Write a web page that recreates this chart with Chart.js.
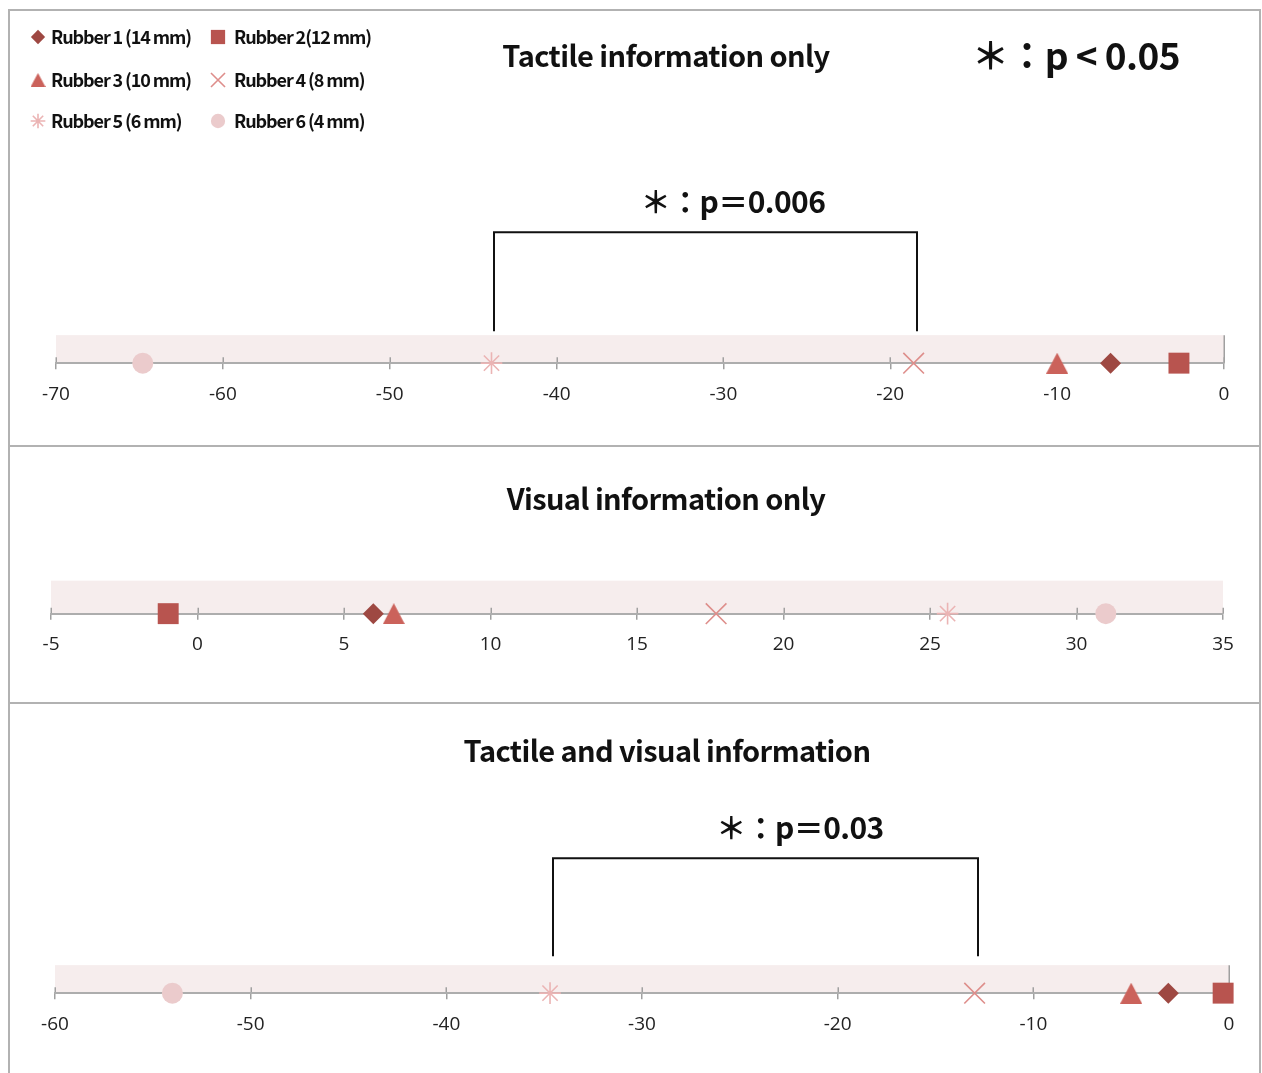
<!DOCTYPE html>
<html>
<head>
<meta charset="utf-8">
<script src="https://cdn.jsdelivr.net/npm/chart.js@4.4.1/dist/chart.umd.min.js"></script>
<style>
  body { margin: 0; background: #fff; width: 1262px; height: 1073px; overflow: hidden; position: relative; font-family: "Noto Sans CJK KR", sans-serif; }
  .frame { position: absolute; left: 8px; top: 9px; width: 1253px; height: 1100px; border: 2px solid #b2b2b2; box-sizing: border-box; }
  .divider { position: absolute; left: 8px; width: 1253px; height: 2px; background: #b2b2b2; }
  .panel { position: absolute; left: 0; width: 1262px; }
  .txt { position: absolute; transform: translate(-50%, -50%); white-space: nowrap; color: #111; font-weight: 700; line-height: 1; }
  .title { font-size: 29px; letter-spacing: -0.6px; }
  .note { font-size: 30px; letter-spacing: -0.6px; }
</style>
</head>
<body>
<div class="frame"></div>
<div class="divider" style="top:445px"></div>
<div class="divider" style="top:702px"></div>

<div class="panel" style="top:12px;height:432px"><canvas id="tactile" width="1262" height="432"></canvas></div>
<div class="panel" style="top:448px;height:254px"><canvas id="visual" width="1262" height="254"></canvas></div>
<div class="panel" style="top:705px;height:368px"><canvas id="both" width="1262" height="368"></canvas></div>

<div class="txt title" style="left:666px;top:54px">Tactile information only</div>
<div class="txt note" style="left:1076px;top:54px;font-size:37px">＊：p &lt; 0.05</div>
<div class="txt note" style="left:733px;top:200px">＊：p＝0.006</div>
<div class="txt title" style="left:666px;top:497px">Visual information only</div>
<div class="txt title" style="left:667px;top:749px">Tactile and visual information</div>
<div class="txt note" style="left:800px;top:826px">＊：p＝0.03</div>

<script>
// data
const rubbers = ['Rubber 1 (14 mm)', 'Rubber 2(12 mm)', 'Rubber 3 (10 mm)', 'Rubber 4 (8 mm)', 'Rubber 5 (6 mm)', 'Rubber 6 (4 mm)'];
const tactileOnly = [-6.8, -2.7, -10.0, -18.6, -43.9, -64.8];
const visualOnly = [6.0, -1.0, 6.7, 17.7, 25.6, 31.0];
const tactileVisual = [-3.1, -0.3, -5.0, -13.0, -34.7, -54.0];
const tactileAxis = [-70, 0, 10];   // min, max, step
const visualAxis = [-5, 35, 5];
const bothAxis = [-60, 0, 10];
const sigPair = [4, 3];             // Rubber 5 vs Rubber 4

// triangle marker drawn so its box is centred on the point
function triangle(w, h, color) {
    const c = document.createElement('canvas');
    c.width = w; c.height = h;
    const g = c.getContext('2d');
    g.fillStyle = color;
    g.beginPath();
    g.moveTo(w / 2, 0); g.lineTo(w, h); g.lineTo(0, h);
    g.closePath();
    g.fill();
    return c;
}

const colors = ['#9e4842', '#b8544f', '#cb625b', '#de8e8b', '#ebb4b4', '#ebcbcc'];
const styles = ['rectRot', 'rect', triangle(22, 21, colors[2]), 'crossRot', 'star', 'circle'];
const radii = [10.5, 14.8, 11, 14.6, 10.8, 10.5];
const legendTri = triangle(15, 14, colors[2]);

// pink band behind the axis, upper half of the tick marks, vertical axis at 0
const bandPlugin = {
    id: 'band',
    beforeDraw(chart, args, opts) {
        const { ctx, chartArea } = chart;
        const x = chart.scales.x;
        const b = chartArea.bottom;
        ctx.save();
        ctx.fillStyle = '#f6eded';
        ctx.fillRect(x.left, b - opts.height, x.right - x.left, opts.height);
        ctx.strokeStyle = '#a0a0a0';
        ctx.lineWidth = 1.5;
        x.ticks.forEach(t => {
            const px = Math.round(x.getPixelForValue(t.value)) + 0.25;
            ctx.beginPath();
            ctx.moveTo(px, b - 6);
            ctx.lineTo(px, b);
            ctx.stroke();
        });
        if (opts.edgeAt !== undefined) {
            const px = Math.round(x.getPixelForValue(opts.edgeAt)) + 0.25;
            ctx.beginPath();
            ctx.moveTo(px, b - opts.height);
            ctx.lineTo(px, b);
            ctx.stroke();
        }
        ctx.restore();
    }
};

const bracketPlugin = {
    id: 'bracket',
    afterDatasetsDraw(chart, args, opts) {
        if (!opts.pair) return;
        const { ctx, chartArea } = chart;
        const x = chart.scales.x;
        const b = chartArea.bottom;
        const x1 = Math.round(x.getPixelForValue(chart.data.datasets[opts.pair[0]].data[0].x)) + 3;
        const x2 = Math.round(x.getPixelForValue(chart.data.datasets[opts.pair[1]].data[0].x)) + 3;
        ctx.save();
        ctx.strokeStyle = '#111';
        ctx.lineWidth = 2;
        ctx.beginPath();
        ctx.moveTo(x1, b - opts.gap);
        ctx.lineTo(x1, b - opts.rise);
        ctx.lineTo(x2, b - opts.rise);
        ctx.lineTo(x2, b - opts.gap);
        ctx.stroke();
        ctx.restore();
    }
};

const legendPlugin = {
    id: 'rubberLegend',
    afterDraw(chart, args, opts) {
        if (!opts.show) return;
        const ctx = chart.ctx;
        ctx.save();
        ctx.font = 'bold 18px "Noto Sans CJK KR"';
        ctx.letterSpacing = '-1.1px';
        ctx.textBaseline = 'middle';
        chart.data.datasets.forEach((ds, i) => {
            const col = i % 2, row = Math.floor(i / 2);
            const mx = [38, 218][col], tx = [51, 234][col], y = [25, 68, 109][row];
            ctx.fillStyle = ds.pointBackgroundColor;
            ctx.strokeStyle = ds.pointBorderColor;
            ctx.lineWidth = ds.pointBorderWidth;
            if (ds.pointStyle instanceof HTMLCanvasElement) {
                ctx.drawImage(legendTri, mx - 7.5, y - 7, 15, 14);
            } else {
                Chart.helpers.drawPoint(ctx, { pointStyle: ds.pointStyle, radius: ds.pointRadius * 0.68, rotation: 0, borderWidth: ds.pointBorderWidth }, mx, y);
            }
            ctx.fillStyle = '#111';
            ctx.fillText(ds.label, tx, y);
        });
        ctx.restore();
    }
};

function makePanel(id, values, axis, pad, band, bracket, legend) {
    const datasets = values.map((v, i) => ({
        label: rubbers[i],
        data: [{ x: v, y: 0 }],
        pointStyle: styles[i],
        pointRadius: radii[i],
        pointBackgroundColor: colors[i],
        pointBorderColor: colors[i],
        pointBorderWidth: (i === 3 || i === 4) ? 1.6 : 0,
        clip: false
    }));
    return new Chart(document.getElementById(id), {
        type: 'scatter',
        data: { datasets: datasets },
        options: {
            responsive: false,
            animation: false,
            events: [],
            layout: { padding: pad },
            plugins: {
                legend: { display: false },
                tooltip: { enabled: false },
                band: band,
                bracket: bracket,
                rubberLegend: { show: legend }
            },
            scales: {
                x: {
                    type: 'linear',
                    min: axis[0],
                    max: axis[1],
                    ticks: { stepSize: axis[2], padding: 14, color: '#222', font: { family: 'Open Sans', size: 19 } },
                    grid: { color: '#a0a0a0', lineWidth: 1.5, tickLength: 6, drawOnChartArea: false },
                    border: { display: true, color: '#adadad', width: 2 }
                },
                y: { display: false, min: 0, max: 1 }
            }
        },
        plugins: [bandPlugin, bracketPlugin, legendPlugin]
    });
}

makePanel('tactile', tactileOnly, tactileAxis,
    { left: 56, right: 38, top: 306, bottom: 35.7 },
    { height: 28, edgeAt: 0 }, { pair: sigPair, rise: 131, gap: 32 }, true);
makePanel('visual', visualOnly, visualAxis,
    { left: 51, right: 39, top: 120.5, bottom: 43.2 },
    { height: 33 }, {}, false);
makePanel('both', tactileVisual, bothAxis,
    { left: 55, right: 33, top: 243, bottom: 34.7 },
    { height: 28, edgeAt: 0 }, { pair: sigPair, rise: 135, gap: 37 }, false);
</script>
</body>
</html>
